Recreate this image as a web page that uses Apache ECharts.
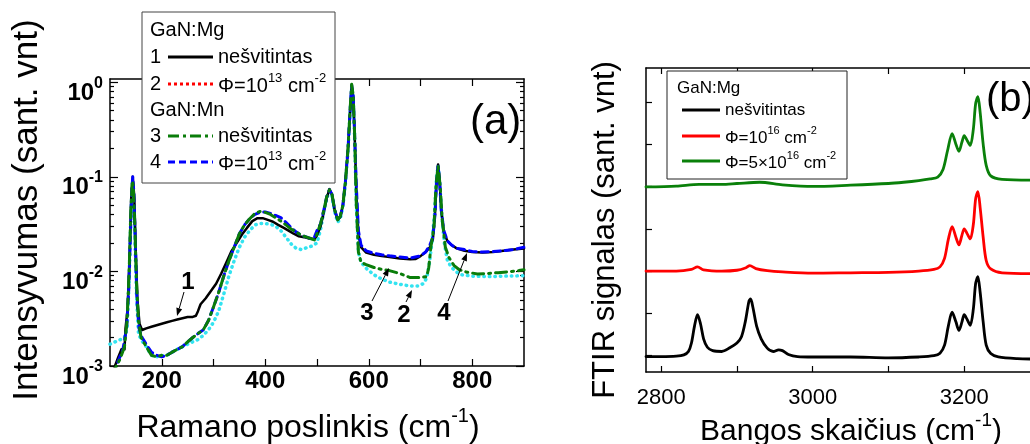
<!DOCTYPE html>
<html><head><meta charset="utf-8">
<script src="https://cdn.jsdelivr.net/npm/echarts@6/dist/echarts.min.js"></script>
<style>html,body{margin:0;padding:0;background:#fff}#c{width:1030px;height:444px}</style>
</head><body><div id="c"></div>
<script>
// ---------- Panel (a): Raman spectra, [shift cm^-1, intensity] ----------
const ramanMgUnirr = [[100,0.0008],[108,0.00095],[115,0.0012],[122,0.0015],[128,0.0015],[130,0.0025],[134,0.004],[138,0.015],[141,0.06],[144,0.1],[147,0.06],[150,0.015],[153,0.005],[157,0.0028],[162,0.0024],[170,0.0025],[180,0.0026],[190,0.0027],[200,0.0028],[210,0.0029],[220,0.003],[230,0.0031],[240,0.0032],[250,0.0033],[260,0.0033],[266,0.0034],[270,0.0038],[275,0.0045],[285,0.0052],[295,0.0062],[305,0.0074],[315,0.0095],[325,0.0125],[335,0.0165],[345,0.02],[355,0.0245],[365,0.029],[375,0.034],[385,0.0365],[395,0.0365],[405,0.035],[415,0.0335],[425,0.031],[435,0.029],[445,0.027],[455,0.025],[465,0.0235],[475,0.023],[485,0.0222],[495,0.022],[500,0.024],[507,0.03],[513,0.042],[519,0.06],[524,0.074],[529,0.065],[534,0.045],[540,0.035],[545,0.038],[550,0.05],[555,0.09],[560,0.2],[564,0.5],[567,0.9],[570,0.7],[573,0.25],[576,0.07],[580,0.025],[585,0.018],[595,0.0158],[610,0.015],[625,0.0145],[640,0.0142],[660,0.0137],[680,0.0134],[690,0.0135],[700,0.0145],[710,0.016],[718,0.018],[724,0.022],[728,0.04],[731,0.09],[734,0.135],[737,0.09],[740,0.045],[745,0.026],[752,0.021],[760,0.019],[770,0.0175],[785,0.0165],[800,0.016],[820,0.0158],[840,0.016],[860,0.0165],[880,0.017],[900,0.0175]];
const ramanMgIrr = [[100,0.0017],[110,0.0018],[120,0.0019],[128,0.002],[133,0.0025],[137,0.008],[140,0.035],[143,0.085],[145,0.075],[148,0.025],[151,0.006],[155,0.0022],[160,0.0019],[170,0.0016],[180,0.0013],[190,0.00125],[200,0.00128],[210,0.0013],[220,0.0014],[230,0.0015],[240,0.0016],[250,0.0017],[260,0.0018],[270,0.0019],[280,0.0021],[290,0.0024],[300,0.0029],[310,0.0038],[320,0.0058],[330,0.009],[340,0.013],[350,0.018],[360,0.023],[370,0.027],[380,0.031],[390,0.032],[400,0.032],[410,0.0315],[420,0.03],[430,0.027],[440,0.023],[450,0.0195],[460,0.0175],[470,0.017],[480,0.0178],[490,0.0185],[500,0.02],[507,0.028],[513,0.042],[519,0.06],[524,0.07],[529,0.062],[534,0.043],[540,0.033],[545,0.036],[550,0.048],[555,0.085],[560,0.19],[564,0.48],[567,0.88],[570,0.68],[573,0.23],[576,0.05],[580,0.016],[585,0.0125],[595,0.0108],[610,0.0092],[625,0.0083],[640,0.0077],[660,0.0073],[680,0.007],[695,0.007],[705,0.0074],[712,0.0085],[717,0.012],[722,0.02],[727,0.04],[731,0.1],[734,0.13],[737,0.09],[741,0.04],[746,0.02],[752,0.013],[760,0.011],[770,0.0098],[780,0.0092],[800,0.0089],[830,0.0088],[860,0.0089],[900,0.009]];
const ramanMnUnirr = [[100,0.0008],[110,0.00095],[120,0.0012],[128,0.0016],[133,0.003],[137,0.01],[140,0.04],[143,0.09],[145,0.08],[148,0.03],[151,0.008],[155,0.003],[160,0.002],[170,0.0016],[180,0.0013],[190,0.00125],[200,0.0013],[210,0.0013],[220,0.0014],[230,0.0015],[240,0.0016],[250,0.0018],[260,0.002],[270,0.0022],[280,0.0024],[290,0.003],[300,0.0042],[310,0.006],[320,0.009],[330,0.013],[340,0.018],[350,0.025],[360,0.031],[370,0.036],[380,0.041],[390,0.043],[400,0.042],[410,0.04],[420,0.037],[430,0.034],[440,0.031],[450,0.028],[460,0.026],[470,0.024],[480,0.023],[490,0.022],[495,0.0215],[500,0.025],[507,0.032],[513,0.044],[519,0.062],[524,0.073],[529,0.065],[534,0.045],[540,0.035],[545,0.038],[550,0.05],[555,0.09],[560,0.2],[564,0.52],[567,0.95],[570,0.72],[573,0.25],[576,0.05],[580,0.016],[585,0.0125],[595,0.0118],[610,0.011],[625,0.0105],[640,0.0102],[660,0.0095],[680,0.0086],[700,0.0086],[712,0.0088],[716,0.011],[720,0.018],[726,0.03],[730,0.08],[734,0.13],[738,0.08],[742,0.035],[748,0.018],[755,0.014],[765,0.0115],[775,0.0104],[790,0.0098],[810,0.0094],[830,0.0095],[850,0.0097],[870,0.0099],[890,0.0102],[900,0.0104]];
const ramanMnIrr = [[115,0.0011],[125,0.0015],[132,0.0025],[136,0.006],[139,0.02],[142,0.07],[144,0.1],[146,0.07],[149,0.02],[152,0.005],[156,0.0025],[162,0.002],[170,0.0017],[180,0.0014],[190,0.0013],[200,0.00125],[210,0.0013],[220,0.0014],[230,0.0015],[240,0.0016],[250,0.0018],[260,0.002],[270,0.0022],[280,0.0024],[290,0.003],[300,0.0042],[310,0.006],[320,0.009],[330,0.013],[340,0.018],[350,0.025],[360,0.031],[370,0.036],[380,0.04],[390,0.042],[400,0.0425],[410,0.041],[420,0.039],[430,0.037],[440,0.033],[450,0.029],[460,0.026],[470,0.024],[480,0.023],[490,0.022],[495,0.023],[500,0.027],[507,0.032],[513,0.044],[519,0.062],[524,0.073],[529,0.065],[534,0.045],[540,0.035],[545,0.038],[550,0.05],[555,0.09],[560,0.2],[564,0.5],[567,0.93],[570,0.7],[573,0.25],[576,0.08],[580,0.027],[585,0.019],[595,0.0165],[610,0.0155],[625,0.015],[640,0.0146],[660,0.0142],[680,0.0138],[700,0.0146],[710,0.016],[718,0.019],[724,0.023],[728,0.04],[731,0.09],[734,0.13],[737,0.09],[740,0.045],[745,0.027],[752,0.021],[760,0.019],[770,0.0175],[785,0.017],[800,0.0162],[820,0.016],[840,0.0162],[860,0.0165],[880,0.017],[900,0.018]];
const ramanXTicks = [200,300,400,500,600,700,800];
const ramanXLabels = [200,400,600,800];
const ramanYMajor = [0.001,0.01,0.1,1];
const ramanYMinor = [0.002,0.003,0.004,0.005,0.006,0.007,0.008,0.009,0.02,0.03,0.04,0.05,0.06,0.07,0.08,0.09,0.2,0.3,0.4,0.5,0.6,0.7,0.8,0.9];

// ---------- Panel (b): FTIR spectra (offset), [wavenumber cm^-1, signal] ----------
const ftirUnirr = [[2780,-0.02],[2800,-0.02],[2820,-0.01],[2830,0.02],[2836,0.1],[2840,0.3],[2844,0.7],[2848,0.97],[2852,0.75],[2856,0.4],[2861,0.2],[2868,0.12],[2880,0.1],[2890,0.18],[2900,0.3],[2906,0.45],[2911,0.8],[2916,1.3],[2918,1.34],[2921,1.15],[2926,0.7],[2932,0.4],[2940,0.18],[2948,0.1],[2955,0.14],[2960,0.12],[2968,0.03],[2980,-0.02],[3000,-0.03],[3050,-0.03],[3100,-0.05],[3140,-0.03],[3160,0.0],[3168,0.06],[3174,0.25],[3179,0.7],[3184,1.03],[3189,0.8],[3193,0.6],[3197,0.8],[3200,0.97],[3204,0.85],[3208,0.72],[3212,1.1],[3215,1.7],[3218,1.87],[3221,1.5],[3225,0.8],[3229,0.25],[3235,0.05],[3245,-0.03],[3270,-0.07],[3300,-0.08]];
const ftirDose1 = [[2780,2.0],[2820,2.0],[2840,2.04],[2848,2.1],[2856,2.03],[2880,2.0],[2900,2.02],[2912,2.08],[2917,2.13],[2925,2.06],[2940,2.01],[2960,1.98],[3000,1.95],[3050,1.96],[3100,1.97],[3140,2.0],[3160,2.04],[3168,2.1],[3174,2.3],[3179,2.75],[3184,3.05],[3189,2.8],[3193,2.62],[3197,2.85],[3200,3.0],[3204,2.88],[3208,2.76],[3212,3.1],[3215,3.7],[3218,3.88],[3221,3.5],[3225,2.8],[3229,2.25],[3235,2.05],[3250,1.96],[3300,1.94]];
const ftirDose5 = [[2780,3.99],[2820,4.01],[2850,4.05],[2880,4.05],[2900,4.07],[2930,4.1],[2960,4.04],[3000,4.0],[3050,4.03],[3100,4.07],[3120,4.1],[3140,4.14],[3155,4.18],[3165,4.22],[3172,4.4],[3178,4.85],[3184,5.25],[3189,5.0],[3193,4.83],[3197,5.05],[3200,5.2],[3204,5.08],[3208,4.97],[3212,5.35],[3215,5.95],[3218,6.12],[3221,5.75],[3225,5.0],[3229,4.5],[3235,4.25],[3250,4.17],[3300,4.15]];
const ftirXTicks = [2800,2900,3000,3100,3200,3300];
const ftirXLabels = [2800,3000,3200];
const ftirYTicks = [0,1,2,3,4,5,6];

const F = "'Liberation Sans', Arial, Helvetica, sans-serif";
const chart = echarts.init(document.getElementById('c'));

function xAx(grid, pos, min, max, ticks, labels, labelStyle, tickLen) {
  return {
    type: 'value', gridIndex: grid, position: pos, min: min, max: max,
    axisLine: {show: true, onZero: false, lineStyle: {color: '#000', width: 1.5}},
    axisTick: {show: true, inside: true, length: tickLen, customValues: ticks, lineStyle: {color: '#000', width: 1.2}},
    axisLabel: labels ? Object.assign({show: true, customValues: labels, color: '#000', fontFamily: F, formatter: v => String(v)}, labelStyle) : {show: false},
    splitLine: {show: false}, minorTick: {show: false}
  };
}
function yLog(pos, ticks, len, line, label) {
  return {
    type: 'log', logBase: 10, gridIndex: 0, position: pos, min: 0.001, max: 1.08,
    axisLine: {show: line, onZero: false, lineStyle: {color: '#000', width: 1.5}},
    axisTick: {show: true, inside: true, length: len, customValues: ticks, lineStyle: {color: '#000', width: 1.2}},
    axisLabel: label ? {
      show: true, customValues: ramanYMajor, margin: 7, padding: [16, 0, 0, 0],
      formatter: v => '{b|10}{s|' + Math.round(Math.log10(v)) + '}',
      rich: {
        b: {fontSize: 24, fontWeight: 'bold', fontFamily: F, color: '#000', lineHeight: 30, verticalAlign: 'bottom'},
        s: {fontSize: 16, fontWeight: 'bold', fontFamily: F, color: '#000', lineHeight: 14, verticalAlign: 'top'}
      }
    } : {show: false},
    splitLine: {show: false}, minorTick: {show: false}
  };
}

const supRich = (fs, ss, lh) => ({
  t: {fontSize: fs, fontFamily: F, color: '#000', lineHeight: lh, verticalAlign: 'bottom'},
  s: {fontSize: ss, fontFamily: F, color: '#000', lineHeight: Math.round(ss * 0.9), verticalAlign: 'top'}
});

function text(x, y, str, opt) {
  return Object.assign({type: 'text', x: x, y: y, z: 110,
    style: Object.assign({text: str, fill: '#000', font: '20px ' + F, verticalAlign: 'middle', align: 'left'}, opt || {})});
}
function seg(x1, y1, x2, y2, color, width, dash) {
  return {type: 'line', z: 110, shape: {x1: x1, y1: y1, x2: x2, y2: y2},
    style: {stroke: color, lineWidth: width, lineDash: dash || null, lineCap: 'butt'}};
}
function arrow(x1, y1, x2, y2) {
  const a = Math.atan2(y2 - y1, x2 - x1), L = 8, W = 3;
  const bx = x2 - L * Math.cos(a), by = y2 - L * Math.sin(a);
  return [
    seg(x1, y1, bx, by, '#000', 1),
    {type: 'polygon', z: 110, shape: {points: [[x2, y2], [bx + W * Math.sin(a), by - W * Math.cos(a)], [bx - W * Math.sin(a), by + W * Math.cos(a)]]}, style: {fill: '#000'}}
  ];
}

const legA = [
  {type: 'rect', z: 105, shape: {x: 142, y: 12, width: 193, height: 171}, style: {fill: '#fff', stroke: '#444', lineWidth: 1}},
  text(150, 30, 'GaN:Mg'),
  text(150, 57, '1'), seg(168, 57, 213, 57, '#000', 3), text(218, 57, 'nešvitintas'),
  text(150, 84, '2'), seg(168, 84, 213, 84, '#ff0000', 3, [3, 3]),
  text(218, 84, '{t|Φ=10}{s|13}{t| cm}{s|-2}', {rich: supRich(20, 13, 24)}),
  text(150, 110, 'GaN:Mn'),
  text(150, 136, '3'), seg(168, 136, 213, 136, '#0a7d0a', 3, [11, 4, 3, 4]), text(218, 136, 'nešvitintas'),
  text(150, 162, '4'), seg(168, 162, 213, 162, '#0000ff', 3, [7, 4]),
  text(218, 162, '{t|Φ=10}{s|13}{t| cm}{s|-2}', {rich: supRich(20, 13, 24)})
];
const legB = [
  {type: 'rect', z: 105, shape: {x: 667, y: 71, width: 180, height: 108}, style: {fill: '#fff', stroke: '#222', lineWidth: 1}},
  text(677, 88, 'GaN:Mg', {font: '17px ' + F}),
  seg(682, 110, 720, 110, '#000', 3), text(725, 110, 'nešvitintas', {font: '17px ' + F}),
  seg(682, 136, 720, 136, '#ff0000', 3), text(725, 136, '{t|Φ=10}{s|16}{t| cm}{s|-2}', {rich: supRich(17, 11, 22)}),
  seg(682, 161, 720, 161, '#0a800a', 3), text(725, 161, '{t|Φ=5×10}{s|16}{t| cm}{s|-2}', {rich: supRich(17, 11, 22)})
];
const titles = [
  text(308, 425, '{t|Ramano poslinkis (cm}{s|-1}{t|)}', {align: 'center', rich: supRich(32, 20, 38)}),
  text(27, 210, 'Intensyvumas (sant. vnt)', {align: 'center', font: '35px ' + F}),
  text(851, 429, '{t|Bangos skaičius (cm}{s|-1}{t|)}', {align: 'center', rich: supRich(30, 19, 36)}),
  text(605, 230, 'FTIR signalas (sant. vnt)', {align: 'center', font: '31px ' + F}),
  text(470, 122, '(a)', {font: '42px ' + F}),
  text(986, 100, '(b)', {font: '40px ' + F}),
  text(188, 282, '1', {align: 'center', font: 'bold 24px ' + F}),
  text(367, 313, '3', {align: 'center', font: 'bold 24px ' + F}),
  text(404, 315, '2', {align: 'center', font: 'bold 24px ' + F}),
  text(444, 313, '4', {align: 'center', font: 'bold 24px ' + F})
];
titles[1].rotation = Math.PI / 2;
titles[3].rotation = Math.PI / 2;
const arrows = [].concat(arrow(184, 292, 177, 316), arrow(372, 301, 389, 268), arrow(406, 302, 412, 290), arrow(448, 301, 467, 253));

const lineS = (data, xi, yi, color, width, type, extra) => Object.assign({
  type: 'line', data: data, xAxisIndex: xi, yAxisIndex: yi, showSymbol: false, symbol: 'none',
  lineStyle: {color: color, width: width, type: type, cap: 'round', join: 'round'}, animation: false, silent: true, clip: true
}, extra || {});

chart.setOption({
  animation: false,
  backgroundColor: '#fff',
  grid: [
    {left: 110, top: 79, width: 414, height: 287, outerBoundsMode: 'none', containLabel: false},
    {left: 646, top: 68, width: 394, height: 304, outerBoundsMode: 'none', containLabel: false}
  ],
  xAxis: [
    xAx(0, 'bottom', 100, 900, ramanXTicks, ramanXLabels, {fontSize: 24, fontWeight: 'bold', margin: 3}, 7),
    xAx(0, 'top', 100, 900, ramanXTicks, null, null, 7),
    xAx(1, 'bottom', 2780, 3300, ftirXTicks, ftirXLabels, {fontSize: 22, margin: 15}, 6),
    xAx(1, 'top', 2780, 3300, ftirXTicks, null, null, 6)
  ],
  yAxis: [
    yLog('left', ramanYMajor, 8, true, true),
    yLog('left', ramanYMinor, 4, false, false),
    yLog('right', ramanYMajor, 8, true, false),
    yLog('right', ramanYMinor, 4, false, false),
    {type: 'value', gridIndex: 1, position: 'left', min: -0.385, max: 6.8,
      axisLine: {show: true, onZero: false, lineStyle: {color: '#000', width: 1.5}},
      axisTick: {show: true, inside: true, length: 6, customValues: ftirYTicks, lineStyle: {color: '#000', width: 1.2}},
      axisLabel: {show: false}, splitLine: {show: false}}
  ],
  series: [
    lineS(ramanMgIrr, 0, 0, '#33e3f0', 3.5, [0.5, 5]),
    lineS(ramanMgUnirr, 0, 0, '#000', 2.5, 'solid'),
    lineS(ramanMnIrr, 0, 0, '#0000ff', 3, [7, 5]),
    lineS(ramanMnUnirr, 0, 0, '#0a7d0a', 3, [11, 5, 2, 5]),
    lineS(ftirUnirr, 2, 4, '#000', 2.8, 'solid', {smooth: 0.3}),
    lineS(ftirDose1, 2, 4, '#ff0000', 2.8, 'solid', {smooth: 0.3}),
    lineS(ftirDose5, 2, 4, '#0a800a', 2.8, 'solid', {smooth: 0.3})
  ],
  graphic: [].concat(legA, legB, titles, arrows)
});
</script></body></html>
